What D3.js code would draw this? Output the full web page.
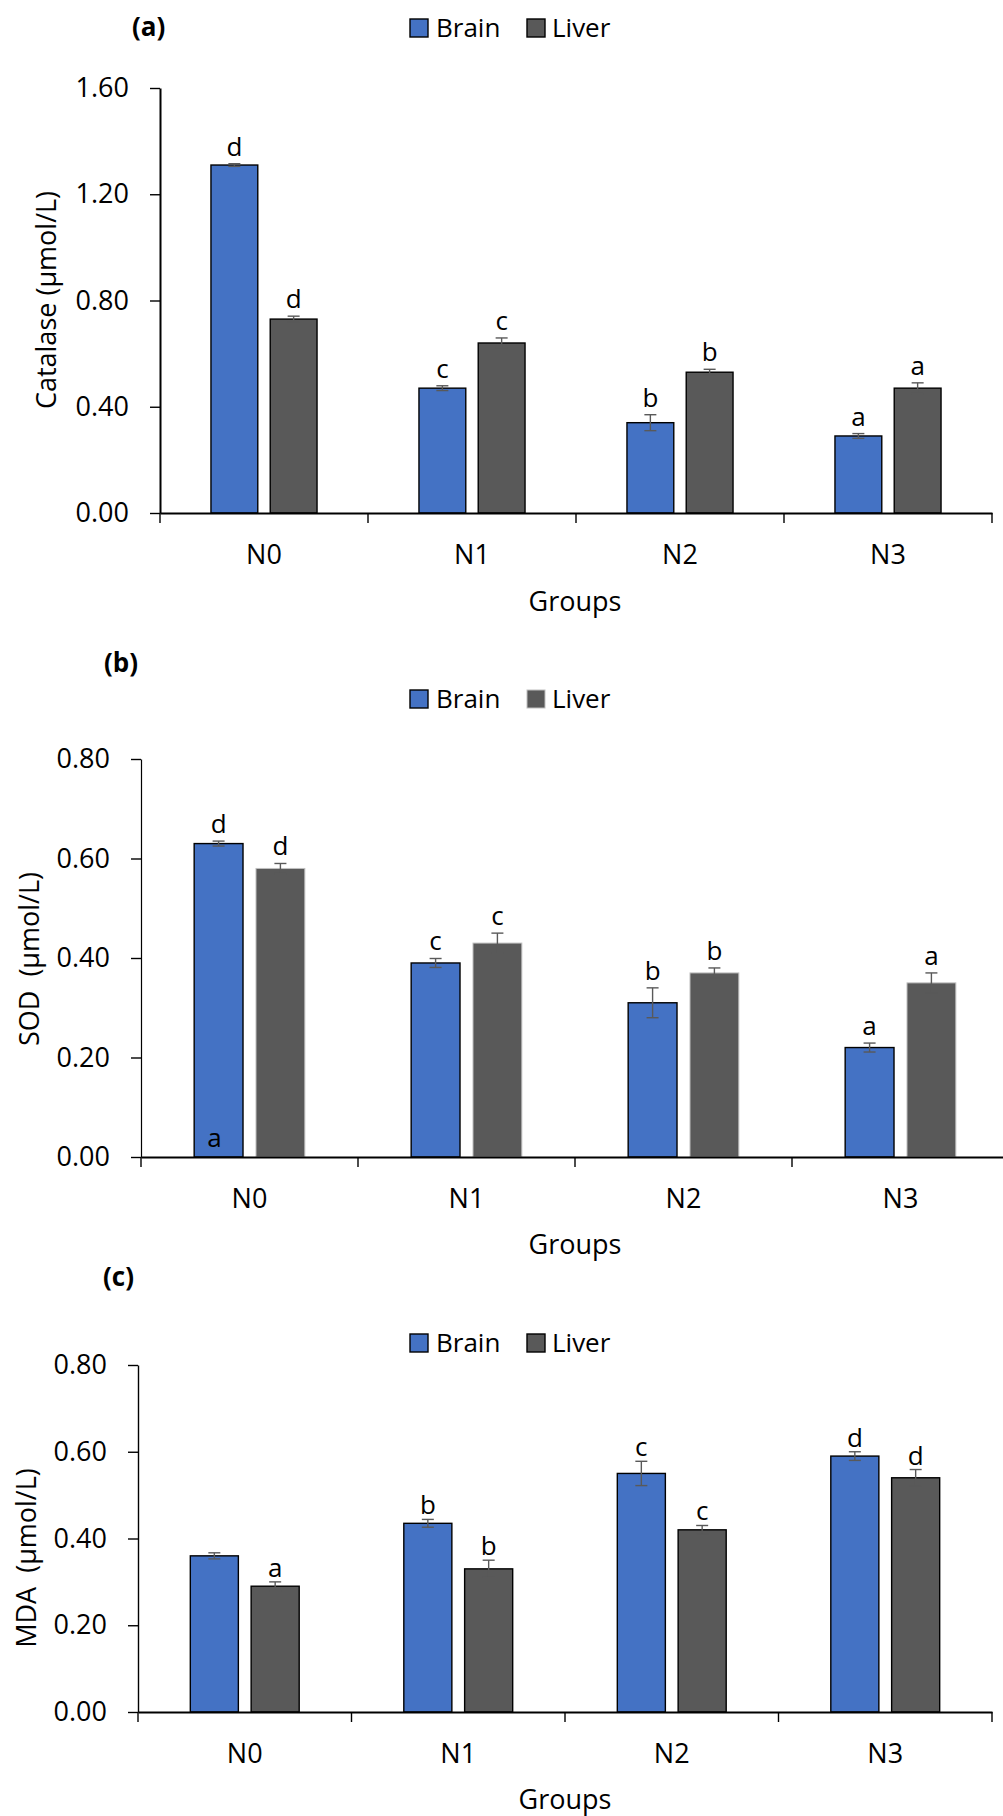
<!DOCTYPE html>
<html>
<head>
<meta charset="utf-8">
<script src="https://cdn.jsdelivr.net/npm/d3@7"></script>
<style>
  body { margin: 0; background: #fff; }
  svg text { font-family: "Open Sans", "Noto Sans", sans-serif; fill: #000; }
</style>
</head>
<body>
<div id="chart"></div>
<script>
const groups = ['N0', 'N1', 'N2', 'N3'];
const series = ['Brain', 'Liver'];

// (a) Catalase
const catalaseBrain = [1.31, 0.47, 0.34, 0.29];
const catalaseBrainErr = [0.005, 0.009, 0.03, 0.009];
const catalaseLiver = [0.73, 0.64, 0.53, 0.47];
const catalaseLiverErr = [0.011, 0.019, 0.011, 0.02];
const catalaseBrainLetters = ['d', 'c', 'b', 'a'];
const catalaseLiverLetters = ['d', 'c', 'b', 'a'];
const catalaseTicks = [0, 0.4, 0.8, 1.2, 1.6];

// (b) SOD
const sodBrain = [0.63, 0.39, 0.31, 0.22];
const sodBrainErr = [0.005, 0.009, 0.03, 0.009];
const sodLiver = [0.58, 0.43, 0.37, 0.35];
const sodLiverErr = [0.01, 0.02, 0.01, 0.02];
const sodBrainLetters = ['d', 'c', 'b', 'a'];
const sodLiverLetters = ['d', 'c', 'b', 'a'];
const sodTicks = [0, 0.2, 0.4, 0.6, 0.8];

// (c) MDA
const mdaBrain = [0.36, 0.435, 0.55, 0.59];
const mdaBrainErr = [0.007, 0.009, 0.028, 0.01];
const mdaLiver = [0.29, 0.33, 0.42, 0.54];
const mdaLiverErr = [0.01, 0.02, 0.01, 0.019];
const mdaBrainLetters = ['', 'b', 'c', 'd'];
const mdaLiverLetters = ['a', 'b', 'c', 'd'];
const mdaTicks = [0, 0.2, 0.4, 0.6, 0.8];

const colors = { Brain: '#4472c4', Liver: '#595959' };

const W = 1003, H = 1816;
const svg = d3.select('#chart').append('svg')
  .attr('width', W).attr('height', H);
svg.append('rect').attr('width', W).attr('height', H).attr('fill', '#fff');

function panel(cfg) {
  const g = svg.append('g');
  const x0 = d3.scaleBand().domain(groups).range([cfg.left, cfg.right]);
  const x1 = d3.scaleBand().domain(series).range([0, x0.bandwidth()])
    .paddingInner(0.21).paddingOuter(0.86);
  const y = d3.scaleLinear().domain([0, cfg.max]).range([cfg.bottom, cfg.top]);

  const rows = [];
  groups.forEach((grp, i) => {
    rows.push({ grp, s: 'Brain', v: cfg.brain[i], e: cfg.brainErr[i], l: cfg.brainLetters[i] });
    rows.push({ grp, s: 'Liver', v: cfg.liver[i], e: cfg.liverErr[i], l: cfg.liverLetters[i] });
  });
  const cx = d => x0(d.grp) + x1(d.s) + x1.bandwidth() / 2;

  // bars
  g.selectAll('.bar').data(rows).enter().append('rect')
    .attr('x', d => x0(d.grp) + x1(d.s))
    .attr('y', d => y(d.v))
    .attr('width', x1.bandwidth())
    .attr('height', d => y(0) - y(d.v))
    .attr('fill', d => colors[d.s])
    .attr('stroke', d => d.s === 'Liver' ? cfg.liverStroke : '#000')
    .attr('stroke-width', d => d.s === 'Liver' ? cfg.liverStrokeW : 1.4);

  // error bars
  const eb = g.selectAll('.err').data(rows).enter().append('g')
    .attr('stroke', '#595959').attr('stroke-width', 1.4);
  eb.append('line')
    .attr('x1', cx).attr('x2', cx)
    .attr('y1', d => y(d.v - d.e)).attr('y2', d => y(d.v + d.e));
  eb.append('line')
    .attr('x1', d => cx(d) - 6).attr('x2', d => cx(d) + 6)
    .attr('y1', d => y(d.v + d.e)).attr('y2', d => y(d.v + d.e));
  eb.append('line')
    .attr('x1', d => cx(d) - 6).attr('x2', d => cx(d) + 6)
    .attr('y1', d => y(d.v - d.e)).attr('y2', d => y(d.v - d.e));

  // letters
  g.selectAll('.letter').data(rows.filter(d => d.l)).enter().append('text')
    .attr('x', cx)
    .attr('y', d => y(d.v + d.e) - cfg.letterGap)
    .attr('text-anchor', 'middle')
    .style('font-size', '26px')
    .text(d => d.l);

  if (cfg.extra) {
    g.append('text')
      .attr('x', x0(cfg.extra.grp) + x1(cfg.extra.s) + x1.bandwidth() / 2 - 4)
      .attr('y', y(cfg.extra.v))
      .attr('text-anchor', 'middle')
      .style('font-size', '26px')
      .text(cfg.extra.l);
  }

  // y axis
  const ya = g.append('g').attr('transform', `translate(${cfg.left},0)`)
    .call(d3.axisLeft(y).tickValues(cfg.ticks).tickFormat(d3.format('.2f'))
      .tickSize(10).tickPadding(21).tickSizeOuter(0));
  ya.select('.domain').attr('stroke-width', cfg.yAxisW);
  ya.selectAll('.tick line').attr('stroke-width', 1.4);
  ya.selectAll('text').style('font-size', '27px').attr('font-family', null);

  // x axis
  const xa = g.append('g').attr('transform', `translate(0,${cfg.bottom})`)
    .call(d3.axisBottom(x0).tickSize(0).tickPadding(32).tickSizeOuter(0));
  xa.select('.domain').attr('stroke-width', 2);
  xa.selectAll('text').style('font-size', '27px').attr('font-family', null);
  const bounds = groups.map(d => x0(d)).concat([cfg.right]);
  g.selectAll('.btick').data(bounds).enter().append('line')
    .attr('x1', d => d).attr('x2', d => d)
    .attr('y1', cfg.bottom).attr('y2', cfg.bottom + 10)
    .attr('stroke', '#000').attr('stroke-width', 1.4);

  // axis titles
  g.append('text')
    .attr('transform', `translate(${cfg.yTitleX},${cfg.yTitleY}) rotate(-90)`)
    .attr('text-anchor', 'middle').attr('dy', '0.35em')
    .style('font-size', '27px').style('white-space', 'pre')
    .text(cfg.yTitle);
  g.append('text')
    .attr('x', cfg.xTitleX).attr('y', cfg.xTitleY)
    .attr('text-anchor', 'middle').attr('dy', '0.35em')
    .style('font-size', '27px')
    .text('Groups');

  // panel tag
  g.append('text')
    .attr('x', cfg.tagX).attr('y', cfg.tagY).attr('dy', '0.35em')
    .style('font-size', '26px').style('font-weight', 'bold')
    .text(cfg.tag);

  // legend
  const lg = g.append('g').attr('transform', `translate(0,${cfg.legendY})`);
  lg.append('rect').attr('x', 410).attr('y', -9).attr('width', 18).attr('height', 18)
    .attr('fill', colors.Brain).attr('stroke', '#000').attr('stroke-width', 1.4);
  lg.append('text').attr('x', 436).attr('dy', '0.35em').style('font-size', '26px').text('Brain');
  lg.append('rect').attr('x', 527).attr('y', -9).attr('width', 18).attr('height', 18)
    .attr('fill', colors.Liver)
    .attr('stroke', cfg.liverStroke).attr('stroke-width', cfg.liverStrokeW);
  lg.append('text').attr('x', 552).attr('dy', '0.35em').style('font-size', '26px').text('Liver');
}

panel({
  tag: '(a)', tagX: 132, tagY: 27, legendY: 28,
  left: 160, right: 992, top: 88, bottom: 513, max: 1.6, ticks: catalaseTicks,
  brain: catalaseBrain, brainErr: catalaseBrainErr, brainLetters: catalaseBrainLetters,
  liver: catalaseLiver, liverErr: catalaseLiverErr, liverLetters: catalaseLiverLetters,
  liverStroke: '#000', liverStrokeW: 1.4, yAxisW: 2, letterGap: 8,
  yTitle: 'Catalase (µmol/L)', yTitleX: 47, yTitleY: 300,
  xTitleX: 575, xTitleY: 602
});

panel({
  tag: '(b)', tagX: 104, tagY: 663, legendY: 699,
  left: 141, right: 1009, top: 759, bottom: 1157, max: 0.8, ticks: sodTicks,
  brain: sodBrain, brainErr: sodBrainErr, brainLetters: sodBrainLetters,
  liver: sodLiver, liverErr: sodLiverErr, liverLetters: sodLiverLetters,
  liverStroke: '#bfbfbf', liverStrokeW: 1, yAxisW: 1.2, letterGap: 8,
  extra: { grp: 'N0', s: 'Brain', v: 0.02, l: 'a' },
  yTitle: 'SOD  (µmol/L)', yTitleX: 30, yTitleY: 959,
  xTitleX: 575, xTitleY: 1245
});

panel({
  tag: '(c)', tagX: 103, tagY: 1277, legendY: 1343,
  left: 138, right: 992, top: 1365, bottom: 1712, max: 0.8, ticks: mdaTicks,
  brain: mdaBrain, brainErr: mdaBrainErr, brainLetters: mdaBrainLetters,
  liver: mdaLiver, liverErr: mdaLiverErr, liverLetters: mdaLiverLetters,
  liverStroke: '#000', liverStrokeW: 1.4, yAxisW: 1.4, letterGap: 5,
  yTitle: 'MDA  (µmol/L)', yTitleX: 27, yTitleY: 1558,
  xTitleX: 565, xTitleY: 1800
});
</script>
</body>
</html>
